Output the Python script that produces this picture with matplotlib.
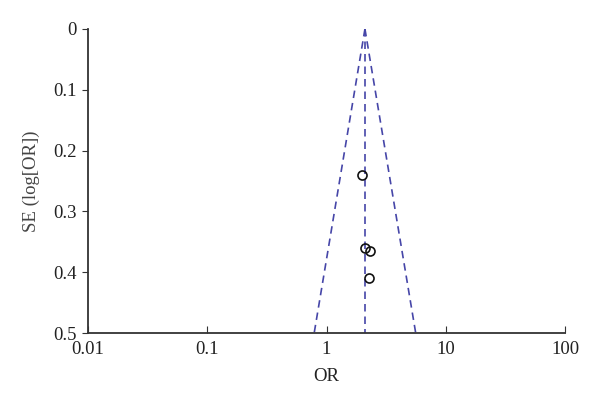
import numpy as np
import matplotlib.pyplot as plt

plt.rcParams['font.family'] = ['Liberation Serif', 'DejaVu Serif']

# study estimates
odds_ratio = [1.97, 2.09, 2.32, 2.28]
se_log_or = [0.240, 0.361, 0.365, 0.409]
pooled_or = 2.1

x_ticks = [0.01, 0.1, 1, 10, 100]
x_labels = ['0.01', '0.1', '1', '10', '100']
y_ticks = [0, 0.1, 0.2, 0.3, 0.4, 0.5]
y_labels = ['0', '0.1', '0.2', '0.3', '0.4', '0.5']

fig = plt.figure(figsize=(6, 4.12), dpi=100)
ax = fig.add_axes([0.1467, 0.1917, 0.795, 0.738])

se = np.array([0, 0.5])
lo = pooled_or * np.exp(-1.96 * se)
hi = pooled_or * np.exp(1.96 * se)
col = '#4646a8'
ax.plot(lo, se, '--', color=col, lw=1.2, dashes=(4.5, 3))
ax.plot(hi, se, '--', color=col, lw=1.2, dashes=(4.5, 3))
ax.plot([pooled_or, pooled_or], se, '--', color=col, lw=1.2, dashes=(4.5, 3))

ax.plot(odds_ratio, se_log_or, 'o', mfc='none', mec='#111111', ms=6.5, mew=1.2)

ax.set_xscale('log')
ax.set_xlim(0.01, 100)
ax.set_ylim(0.5, 0)
ax.set_xticks(x_ticks)
ax.set_xticklabels(x_labels)
ax.minorticks_off()
ax.set_yticks(y_ticks)
ax.set_yticklabels(y_labels)

for s in ['top', 'right']:
    ax.spines[s].set_visible(False)
for s in ['left', 'bottom']:
    ax.spines[s].set_color('#333333')
    ax.spines[s].set_linewidth(1.3)

ax.tick_params(axis='x', direction='in', length=5, color='#333333',
               labelsize=13.5, labelcolor='#222222', pad=6)
ax.tick_params(axis='y', direction='out', length=4, color='#333333',
               labelsize=13.5, labelcolor='#222222', pad=4)

ax.set_xlabel('OR', fontsize=13.5, color='#222222', labelpad=7)
ax.set_ylabel('SE (log[OR])', fontsize=13.5, color='#444444', labelpad=10)

fig.savefig('out.png', dpi=100)
